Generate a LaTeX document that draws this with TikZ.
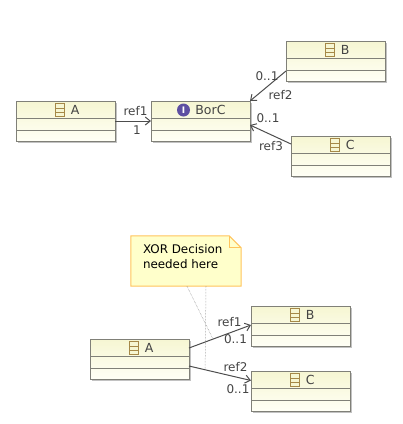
\documentclass[tikz,border=0pt]{standalone}
\usepackage{fontspec}
\setmainfont{DejaVu Sans}
\usetikzlibrary{arrows.meta,positioning,shadows}
\definecolor{linegray}{HTML}{4D4D4D}
\definecolor{boxgray}{HTML}{808078}
\definecolor{texgray}{HTML}{444444}
\definecolor{headfill}{HTML}{F6F6D2}
\definecolor{footfill}{HTML}{FFFFF6}
\definecolor{notefill}{HTML}{FFFFCB}
\definecolor{noteline}{HTML}{FFC45C}
\definecolor{iconbrown}{HTML}{A58848}
\definecolor{iconpurple}{HTML}{5E4FA2}
\tikzset{
  classbox/.style={draw=boxgray,line width=1pt,top color=headfill,bottom color=footfill,
    minimum width=99pt,minimum height=40pt,inner sep=0pt,outer sep=0pt,
    drop shadow={shadow xshift=1.5pt,shadow yshift=-1.5pt,fill=black!40,opacity=.6},
    path picture={
      \draw[boxgray,line width=1pt] ([yshift=-17pt]path picture bounding box.north west) -- ([yshift=-17pt]path picture bounding box.north east);
      \draw[boxgray,line width=1pt] ([yshift=-29pt]path picture bounding box.north west) -- ([yshift=-29pt]path picture bounding box.north east);
    }},
  classicon/.style={draw=iconbrown,line width=.8pt,fill=headfill,minimum width=8.5pt,minimum height=12.5pt,
    inner sep=0pt,path picture={
      \draw[iconbrown,line width=.8pt] ([yshift=2.1pt]path picture bounding box.west) -- ([yshift=2.1pt]path picture bounding box.east);
      \draw[iconbrown,line width=.8pt] ([yshift=-2.1pt]path picture bounding box.west) -- ([yshift=-2.1pt]path picture bounding box.east);
    }},
  faceicon/.style={circle,fill=iconpurple,text=white,minimum size=13pt,inner sep=0pt,
    font=\fontsize{9}{9}\bfseries\selectfont},
  title/.style={anchor=west,inner sep=0pt,text=texgray,font=\fontsize{12.5}{15}\selectfont},
  rolelabel/.style={inner sep=0pt,text=texgray,font=\fontsize{12}{14}\selectfont},
  ref/.style={-{Straight Barb[length=5pt,width=8pt]},draw=linegray,line width=1pt},
  notelink/.style={draw=black!50,densely dotted,line width=.5pt},
  notetext/.style={align=left,inner sep=0pt,anchor=north west,font=\fontsize{11.9}{15}\selectfont}
}
\begin{document}
\begin{tikzpicture}[x=1pt,y=-1pt]
  \useasboundingbox (0,0) rectangle (403,424);

  % top diagram
  \node[classbox] (a1) at (65.5,121) {};
  \node[classbox,right=36pt of a1] (borc) {};
  \node[classbox,above right=20pt and 36pt of borc] (b1) {};
  \node[classbox,below right=-5pt and 41pt of borc] (c1) {};

  \node[classicon] (a1icon) at ([xshift=-5.5pt,yshift=-9pt]a1.north) {};
  \node[title,right=6pt of a1icon] (a1name) {A};
  \node[faceicon] (borcicon) at ([xshift=-17pt,yshift=-9pt]borc.north) {I};
  \node[title,right=5pt of borcicon] (borcname) {BorC};
  \node[classicon] (b1icon) at ([xshift=-5.5pt,yshift=-9pt]b1.north) {};
  \node[title,right=6pt of b1icon] (b1name) {B};
  \node[classicon] (c1icon) at ([xshift=-5.5pt,yshift=-9pt]c1.north) {};
  \node[title,right=6pt of c1icon] (c1name) {C};

  \draw[ref] (a1.east) -- (borc.west);
  \draw[ref] ([yshift=-10pt]b1.west) -- (borc.north east);
  \draw[ref] ([yshift=-8pt]c1.north west) -- ([yshift=-4pt]borc.east);

  \node[rolelabel] at (135.5,111) {ref1};
  \node[rolelabel] at (137,130) {1};
  \node[rolelabel] at (267,76) {0..1};
  \node[rolelabel] at (280.5,95) {ref2};
  \node[rolelabel] at (268,118) {0..1};
  \node[rolelabel] at (271,146) {ref3};

  % bottom diagram
  \node[classbox] (a2) at (139.5,359) {};
  \node[classbox,above right=-7pt and 62pt of a2] (b2) {};
  \node[classbox,below right=-8pt and 62pt of a2] (c2) {};

  \node[classicon] (a2icon) at ([xshift=-5.5pt,yshift=-9pt]a2.north) {};
  \node[title,right=6pt of a2icon] (a2name) {A};
  \node[classicon] (b2icon) at ([xshift=-5.5pt,yshift=-9pt]b2.north) {};
  \node[title,right=6pt of b2icon] (b2name) {B};
  \node[classicon] (c2icon) at ([xshift=-5.5pt,yshift=-9pt]c2.north) {};
  \node[title,right=6pt of c2icon] (c2name) {C};

  \draw[ref] ([yshift=-9pt]a2.north east) -- coordinate[pos=.387] (ref1mid) ([yshift=-19pt]b2.north west);
  \draw[ref] ([yshift=-27pt]a2.north east) -- coordinate[pos=.26] (ref2mid) ([yshift=-9.5pt]c2.north west);

  \node[rolelabel] at (229.5,322) {ref1};
  \node[rolelabel] at (235.5,339) {0..1};
  \node[rolelabel] at (235.5,367) {ref2};
  \node[rolelabel] at (238,389) {0..1};

  % note
  \node[minimum width=110pt,minimum height=50pt,inner sep=0pt] (xor) at (186,261) {};
  \draw[draw=noteline,fill=notefill,line width=1pt] (xor.north west) -- ([xshift=-12pt]xor.north east)
    -- ([yshift=-12pt]xor.north east) -- (xor.south east) -- (xor.south west) -- cycle;
  \draw[draw=noteline,line width=1pt] ([xshift=-12pt]xor.north east) -- ([xshift=-12pt,yshift=-12pt]xor.north east)
    -- ([yshift=-12pt]xor.north east);
  \node[notetext] (xortext) at ([xshift=12pt,yshift=-8pt]xor.north west) {XOR Decision\\needed here};

  \draw[notelink] ([xshift=1pt]xor.south) -- (ref1mid);
  \draw[notelink] ([xshift=20pt]xor.south) -- (ref2mid);
\end{tikzpicture}
\end{document}
